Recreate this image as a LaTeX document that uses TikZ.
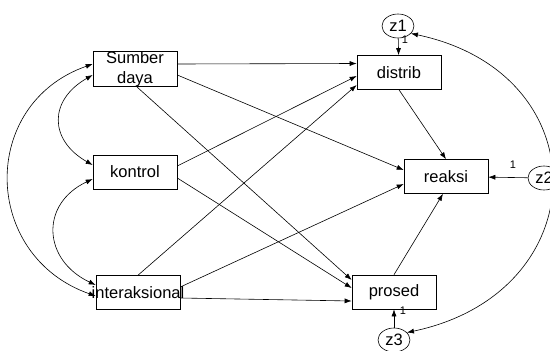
\documentclass[tikz,border=0pt]{standalone}
\usepackage{fontspec}
\setmainfont{Liberation Sans}
\usetikzlibrary{arrows.meta, shapes.geometric}

\begin{document}
\begin{tikzpicture}[x=1pt, y=-1pt, >={Latex[length=7pt, width=5pt]}, line width=0.6pt,
    var/.style={draw, rectangle, minimum width=84pt, minimum height=34pt, inner sep=0pt, font=\fontsize{16.5}{17}\selectfont},
    err/.style={draw, ellipse, fill=white, minimum width=32pt, minimum height=24pt, inner sep=0pt, font=\fontsize{16.5}{17}\selectfont},
    one/.style={font=\fontsize{11}{12}\selectfont, inner sep=0pt}]
    \clip (0,0) rectangle (550,351);
    \node[var, align=center] (sumber) at (135,69) {Sumber\\[3pt]daya};
    \node[var] (kontrol) at (135,172) {kontrol};
    \node[var] (inter) at (138,292.5) {\makebox[0pt]{interaksional}};
    \node[var] (distrib) at (399,72.5) {distrib};
    \node[var] (reaksi) at (446,176.5) {reaksi};
    \node[var] (prosed) at (394,292) {prosed};
    \draw[->] ([yshift=5pt]sumber.east) -- ([yshift=9pt]distrib.west);
    \draw[->] ([yshift=-6pt]sumber.east) -- ([yshift=6.5pt]reaksi.west);
    \draw[->] ([xshift=2pt]sumber.south) -- ([yshift=12pt]prosed.west);
    \draw[->] ([yshift=6pt]kontrol.east) -- ([yshift=-3.5pt]distrib.west);
    \draw[->] ([yshift=-6pt]kontrol.east) -- ([yshift=4pt]prosed.west);
    \draw[->] (inter.north) -- ([yshift=-12.5pt]distrib.west);
    \draw[->] ([yshift=5.5pt]inter.east) -- ([yshift=-7.5pt]reaksi.west);
    \draw[->] ([yshift=-5.5pt]inter.east) -- ([yshift=-9pt]prosed.west);
    \draw[->] (distrib.south) -- (reaksi.north);
    \draw[->] (prosed.north) -- ([xshift=-3pt]reaksi.south);
    % covariances
    \draw[<->] ([yshift=-6pt]sumber.west) .. controls +(-44,25) and +(-44,-25) .. ([yshift=7pt]kontrol.west);
    \draw[<->] ([yshift=-7pt]kontrol.west) .. controls +(-53,25) and +(-53,-25) .. ([yshift=7.5pt]inter.west);
    \draw[<->] ([yshift=5pt]sumber.west) .. controls +(-114,40) and +(-114,-40) .. ([yshift=-3.5pt]inter.west);
    % errors
    \node[err] (z1) at (398,26) {z1};
    \node[err] (z2) at (544,178) {z2};
    \node[err] (z3) at (394,340) {z3};
    \draw[<->] (z1.-30) .. controls +(190,40) and +(190,-40) .. (z3.30);
    \draw[->] (z1) -- (distrib);
    \draw[->] (z2) -- (reaksi);
    \draw[->] (z3) -- (prosed);
    \node[one] (w1) at (405,40) {1};
    \node[one] (w2) at (513,165) {1};
    \node[one] (w3) at (403,311) {1};
\end{tikzpicture}
\end{document}
